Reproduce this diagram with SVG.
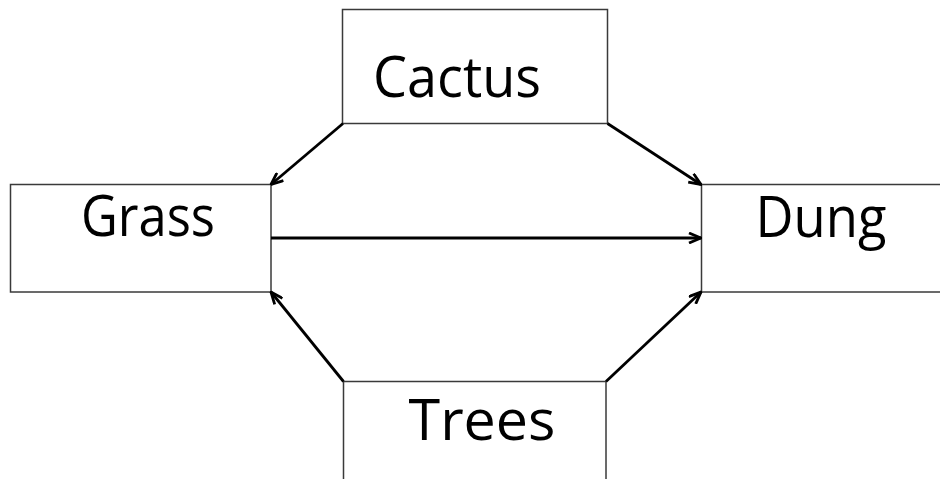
<svg xmlns="http://www.w3.org/2000/svg" width="940" height="479" viewBox="0 0 940 479">
  <defs>
    <marker id="head" viewBox="0 0 14 12" refX="13" refY="6" markerWidth="14" markerHeight="12" markerUnits="userSpaceOnUse" orient="auto">
      <path d="M1,1 L13,6 L1,11" fill="none" stroke="#000" stroke-width="2.8" stroke-linejoin="miter"/>
    </marker>
  </defs>
  <style>
    .box { fill: #fff; stroke: #3a3a3a; stroke-width: 1.5; }
    .label { font-family: "Open Sans", "Liberation Sans", sans-serif; font-size: 56px; fill: #000; text-anchor: middle; }
    .link { fill: none; stroke: #000; stroke-width: 2.8; marker-end: url(#head); }
  </style>
  <rect width="940" height="479" fill="#fff"/>

  <g id="cactus">
    <rect class="box" x="342.5" y="9.5" width="265" height="114"/>
    <text class="label" x="457" y="97" textLength="168" lengthAdjust="spacingAndGlyphs">Cactus</text>
  </g>
  <g id="grass">
    <rect class="box" x="10.5" y="184.5" width="260.5" height="107.5"/>
    <text class="label" x="148" y="236" textLength="134" lengthAdjust="spacingAndGlyphs">Grass</text>
  </g>
  <g id="dung">
    <rect class="box" x="701.5" y="184.5" width="260" height="107.5"/>
    <text class="label" x="821" y="237" textLength="131" lengthAdjust="spacingAndGlyphs">Dung</text>
  </g>
  <g id="trees">
    <rect class="box" x="343.5" y="381.5" width="262.5" height="120"/>
    <text class="label" x="482" y="440" textLength="147" lengthAdjust="spacingAndGlyphs">Trees</text>
  </g>

  <g id="connectors">
    <line class="link" x1="343" y1="123.5" x2="271" y2="184.5"/>
    <line class="link" x1="607.5" y1="123.5" x2="701" y2="184.5"/>
    <line class="link" x1="271" y1="238" x2="701" y2="238"/>
    <line class="link" x1="343.5" y1="381.5" x2="271" y2="292"/>
    <line class="link" x1="606" y1="381.5" x2="701" y2="292"/>
  </g>
</svg>
